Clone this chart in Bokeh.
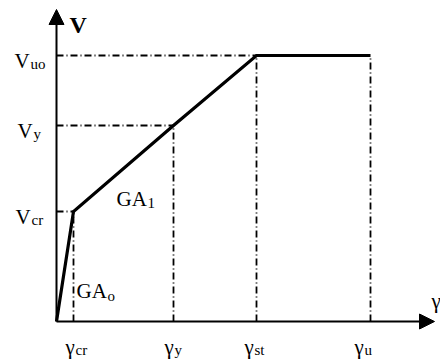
from bokeh.plotting import figure
from bokeh.models import Range1d, Arrow, NormalHead
from bokeh.core.properties import value
from bokeh.embed import file_html
from bokeh.resources import INLINE

# Shear force V versus shear strain gamma: trilinear backbone
gamma_keys = ["cr", "y", "st", "u"]
gamma_vals = [17, 117, 200, 314]
v_keys = ["cr", "y", "uo"]
v_vals = [110, 196, 266]

gamma = dict(zip(gamma_keys, gamma_vals))
V = dict(zip(v_keys, v_vals))

curve_x = [0, gamma["cr"], gamma["y"], gamma["st"], gamma["u"]]
curve_y = [0, V["cr"], V["y"], V["uo"], V["uo"]]

SERIF = value("Liberation Serif")
BIG = "21px"
SMALL = "15px"

p = figure(width=440, height=363, output_backend="svg", toolbar_location=None,
           x_range=Range1d(-56, 384), y_range=Range1d(-42, 321),
           min_border=0, min_border_left=0, min_border_right=0,
           min_border_top=0, min_border_bottom=0)
p.axis.visible = False
p.grid.visible = False
p.outline_line_color = None
p.background_fill_color = "white"
p.border_fill_color = "white"

DASH = "7 3 1 3"

# reference lines from the axes to each characteristic point
v_line_gammas = [gamma["cr"], gamma["y"], gamma["st"], gamma["u"]]
v_line_tops = [V["cr"], V["y"], V["uo"], V["uo"]]
p.segment(x0=v_line_gammas, y0=[0] * 4, x1=v_line_gammas, y1=v_line_tops,
          line_color="black", line_width=1.8, line_dash=DASH)

h_line_vs = [V["cr"], V["y"], V["uo"]]
h_line_ends = [gamma["cr"], gamma["y"], gamma["st"]]
p.segment(x0=[0] * 3, y0=h_line_vs, x1=h_line_ends, y1=h_line_vs,
          line_color="black", line_width=1.8, line_dash=DASH)

# axes with arrow heads
p.add_layout(Arrow(end=NormalHead(size=15, fill_color="black", line_color="black"),
                   x_start=0, y_start=0, x_end=378, y_end=0,
                   line_width=2, line_color="black"))
p.add_layout(Arrow(end=NormalHead(size=15, fill_color="black", line_color="black"),
                   x_start=0, y_start=0, x_end=0, y_end=312,
                   line_width=2, line_color="black"))

# backbone curve
p.line(curve_x, curve_y, line_color="black", line_width=3.2, line_join="miter")


def label(x, y, main, sub, size=BIG, style="normal", sub_dx=16, sub_dy=-4):
    p.text(x=[x], y=[y], text=[main], text_font=SERIF, text_font_size=size,
           text_font_style=style, text_baseline="alphabetic", text_align="left",
           text_color="black")
    if sub:
        p.text(x=[x + sub_dx], y=[y + sub_dy], text=[sub], text_font=SERIF,
               text_font_size=SMALL, text_baseline="alphabetic", text_align="left",
               text_color="black")


# axis titles
label(13, 297, "V", None, size="24px", style="bold")
label(375, 21, "γ", None)

# V levels on the vertical axis
v_label_left = {"uo": -42, "y": -39, "cr": -41}
for k in v_keys:
    label(v_label_left[k], V[k] - 5, "V", k, sub_dx=16, sub_dy=-3)

# gamma levels under the horizontal axis
g_label_left = {"cr": -8, "y": -9, "st": -12, "u": -16}
for k in gamma_keys:
    label(gamma[k] + g_label_left[k], -25, "γ", k, sub_dx=10, sub_dy=-3)

# stiffness labels
label(60, 123, "GA", "1", sub_dx=31, sub_dy=-4)
label(20, 31, "GA", "o", sub_dx=31, sub_dy=-5)

open("out.html", "w").write(file_html(p, INLINE))
